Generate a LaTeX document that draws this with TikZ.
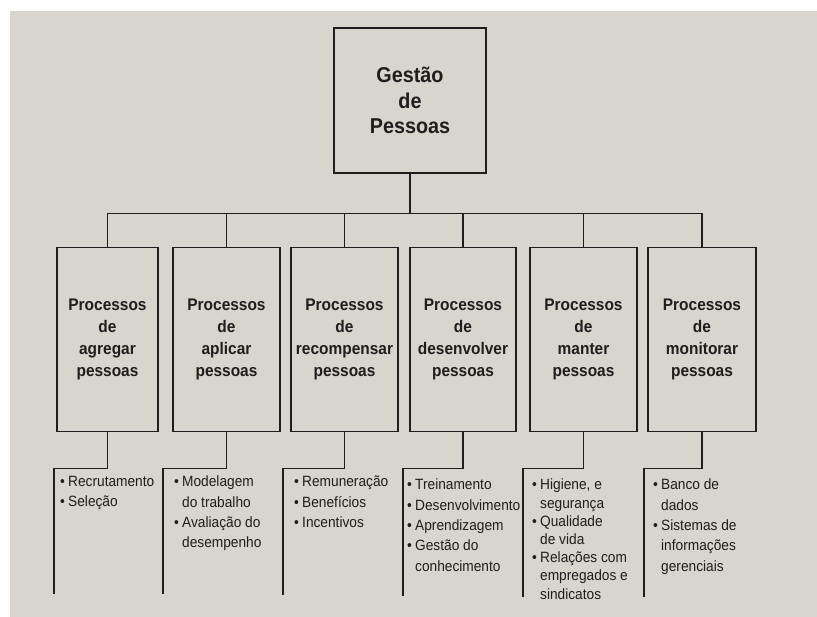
\documentclass[tikz,border=0pt]{standalone}
\usepackage{fontspec}
\setmainfont{Liberation Sans}
\newfontfamily\narrow[FakeStretch=0.92]{Liberation Sans}
\definecolor{paper}{RGB}{215,213,205}
\definecolor{ink}{RGB}{30,30,30}
\tikzset{
  ln/.style={draw=ink, line width=1.4pt},
  topbox/.style={ln, minimum width=152pt, minimum height=145pt, inner sep=0pt, align=center,
    font=\narrow\fontsize{21.5}{25.5}\selectfont\bfseries, text=ink},
  procbox/.style={ln, minimum height=184pt, inner sep=0pt, align=center,
    font=\narrow\fontsize{16.8}{22}\selectfont\bfseries, text=ink},
  itemlist/.style={anchor=north west, inner sep=0pt, align=left,
    font=\narrow\fontsize{14.9}{20.3}\selectfont, text=ink},
  tightlist/.style={itemlist, font=\narrow\fontsize{14.9}{18.2}\selectfont},
}
\newcommand\bul{\makebox[8pt][l]{\textbullet}}
\newcommand\cont{\makebox[8pt]{}}
\begin{document}
\begin{tikzpicture}[x=1pt,y=-1pt]
\fill[white] (0,0) rectangle (817,617);
\fill[paper] (10,11) rectangle (817,617);
\useasboundingbox (0,0) rectangle (817,617);

\node[topbox] (top) at (410,100.5) {Gestão\\de\\Pessoas};

\node[procbox, minimum width=101pt] (b1) at (107.5,339.5) {Processos\\de\\agregar\\pessoas};
\node[procbox, minimum width=107pt] (b2) at (226.5,339.5) {Processos\\de\\aplicar\\pessoas};
\node[procbox, minimum width=107pt] (b3) at (344.5,339.5) {Processos\\de\\recompensar\\pessoas};
\node[procbox, minimum width=106pt] (b4) at (463,339.5) {Processos\\de\\desenvolver\\pessoas};
\node[procbox, minimum width=107pt] (b5) at (583.5,339.5) {Processos\\de\\manter\\pessoas};
\node[procbox, minimum width=108pt] (b6) at (702,339.5) {Processos\\de\\monitorar\\pessoas};

\coordinate (bus) at (0,213.5);
\draw[ln] (top.south) -- (top.south |- bus);
\draw[ln] (b1.north) -- (b1.north |- bus) -- (b6.north |- bus) -- (b6.north);
\foreach \i in {2,...,5} \draw[ln] (b\i.north) -- (b\i.north |- bus);

\coordinate (h) at (0,468.5);
\coordinate (e1) at (54,594);
\coordinate (e2) at (163,594);
\coordinate (e3) at (283,595);
\coordinate (e4) at (403,596);
\coordinate (e5) at (523,597);
\coordinate (e6) at (644,597);
\foreach \i in {1,...,6} \draw[ln] (b\i.south) -- (b\i.south |- h) -| (e\i);

\node[itemlist] (l1) at (60,476) {\bul Recrutamento\\\bul Seleção};
\node[itemlist] (l2) at (174,476) {\bul Modelagem\\\cont do trabalho\\\bul Avaliação do\\\cont desempenho};
\node[itemlist] (l3) at (294,476) {\bul Remuneração\\\bul Benefícios\\\bul Incentivos};
\node[itemlist] (l4) at (407,479) {\bul Treinamento\\\bul Desenvolvimento\\\bul Aprendizagem\\\bul Gestão do\\\cont conhecimento};
\node[tightlist] (l5) at (532,479) {\bul Higiene, e\\\cont segurança\\\bul Qualidade\\\cont de vida\\\bul Relações com\\\cont empregados e\\\cont sindicatos};
\node[itemlist] (l6) at (653,479) {\bul Banco de\\\cont dados\\\bul Sistemas de\\\cont informações\\\cont gerenciais};
\end{tikzpicture}
\end{document}
